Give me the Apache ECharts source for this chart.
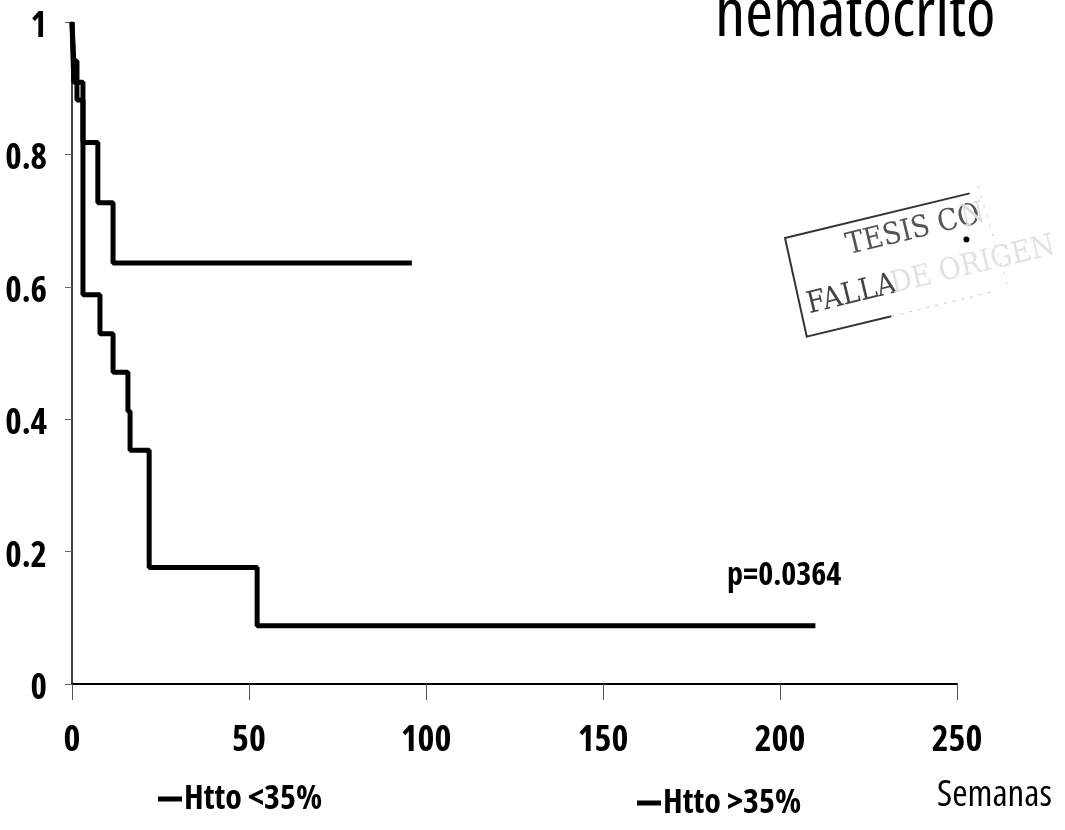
<!DOCTYPE html>
<html>
<head>
<meta charset="utf-8">
<script src="https://cdn.jsdelivr.net/npm/echarts@6/dist/echarts.min.js"></script>
<style>
html,body{margin:0;padding:0;background:#fff;}
#chart{width:1065px;height:830px;}
</style>
</head>
<body>
<div id="chart"></div>
<script>
// Kaplan-Meier steps (weeks, survival)
const weeksHigh = [0, 0.5, 3.1, 7.3, 11.6, 96];
const survHigh  = [1, 0.909, 0.818, 0.727, 0.636, 0.636];
const weeksLow  = [0, 0.5, 1.4, 3.1, 7.9, 11.6, 15.8, 16.4, 21.8, 52.3, 210];
const survLow   = [1, 0.941, 0.882, 0.588, 0.529, 0.471, 0.412, 0.353, 0.176, 0.088, 0.088];
const seriesNames = ['Htto <35%', 'Htto >35%'];
const xTicks = [0, 50, 100, 150, 200, 250];
const yTicks = [0, 0.2, 0.4, 0.6, 0.8, 1];
const xAxisName = 'Semanas';
const titleText = 'hematocrito';
const pText = 'p=0.0364';
const stampWords = ['TESIS CO', 'N', 'FALLA', 'DE ORIGEN'];

const NARROW = '"Open Sans", "Noto Sans", sans-serif';
const SERIF = '"DejaVu Serif", "Liberation Serif", serif';

function pairs(xs, ys) { return xs.map((x, i) => [x, ys[i]]); }

const chart = echarts.init(document.getElementById('chart'));
const lineStyle = { color: '#000', width: 5 };

chart.setOption({
  animation: false,
  backgroundColor: '#fff',
  grid: { left: 72, top: 22, right: 108, bottom: 146, containLabel: false, outerBoundsMode: 'none' },
  xAxis: {
    type: 'value', min: xTicks[0], max: xTicks[xTicks.length - 1], interval: 50,
    name: xAxisName, nameLocation: 'end', nameGap: -20,
    nameTextStyle: { fontFamily: NARROW, fontWeight: 'condensed', fontSize: 37, color: '#000', align: 'left', verticalAlign: 'top', padding: [93, 0, 0, 0] },
    axisLine: { show: true, lineStyle: { color: '#000', width: 2 } },
    axisTick: { show: true, length: 16, lineStyle: { color: '#555', width: 1 } },
    axisLabel: { margin: 39, fontFamily: NARROW, fontWeight: 'bold condensed', fontSize: 36, color: '#000' },
    splitLine: { show: false }
  },
  yAxis: {
    type: 'value', min: yTicks[0], max: yTicks[yTicks.length - 1], interval: 0.2,
    axisLine: { show: true, lineStyle: { color: '#000', width: 1.5 } },
    axisTick: { show: true, length: 7, lineStyle: { color: '#666', width: 1 } },
    axisLabel: { margin: 25, formatter: '{v|{value}}',
      rich: { v: { fontFamily: NARROW, fontWeight: 'bold condensed', fontSize: 35, color: '#000', padding: [10, 0, 0, 0] } } },
    splitLine: { show: false }
  },
  legend: [
    { data: [seriesNames[0]], left: 153, top: 777, icon: 'rect', itemWidth: 24, itemHeight: 5, itemGap: 0,
      textStyle: { fontFamily: NARROW, fontWeight: 'bold condensed', fontSize: 34, color: '#000', padding: [0, 0, 0, -3] } },
    { data: [seriesNames[1]], left: 632, top: 781, icon: 'rect', itemWidth: 24, itemHeight: 5, itemGap: 0,
      textStyle: { fontFamily: NARROW, fontWeight: 'bold condensed', fontSize: 34, color: '#000', padding: [0, 0, 0, -3] } }
  ],
  series: [
    { name: seriesNames[0], type: 'line', step: 'end', data: pairs(weeksLow, survLow),
      showSymbol: false, symbol: 'none', itemStyle: { color: '#000' }, lineStyle: lineStyle },
    { name: seriesNames[1], type: 'line', step: 'end', data: pairs(weeksHigh, survHigh),
      showSymbol: false, symbol: 'none', itemStyle: { color: '#000' }, lineStyle: lineStyle }
  ],
  graphic: [
    { type: 'text', left: 715, top: -17, style: { text: titleText, font: 'condensed 67px ' + NARROW, fill: '#000' } },
    { type: 'text', left: 727, top: 560, style: { text: pText, font: 'bold condensed 32px ' + NARROW, fill: '#000' } },
    { type: 'group', x: 785, y: 238, rotation: 0.237, children: [
        { type: 'polyline', shape: { points: [[190, 0], [0, 0], [-2, 101], [85, 101]] },
          style: { stroke: '#333', lineWidth: 2, fill: null } },
        { type: 'line', shape: { x1: 85, y1: 101, x2: 190, y2: 101 }, style: { stroke: '#ccc', lineWidth: 1, lineDash: [3, 6] } },
        { type: 'line', shape: { x1: 200, y1: -5, x2: 205, y2: 100 }, style: { stroke: '#ccc', lineWidth: 1, lineDash: [2, 8] } },
        { type: 'text', x: 58, y: 8, style: { text: stampWords[0], font: 'condensed 30px ' + SERIF, fill: '#555' } },
        { type: 'text', x: 176, y: 8, style: { text: stampWords[1], font: 'condensed 30px ' + SERIF, fill: '#ddd' } },
        { type: 'text', x: 6, y: 56, style: { text: stampWords[2], font: 'condensed 30px ' + SERIF, fill: '#444' } },
        { type: 'text', x: 92, y: 56, style: { text: stampWords[3], font: 'condensed 30px ' + SERIF, fill: '#e2e2e2' } },
        { type: 'circle', shape: { cx: 176, cy: 44, r: 3 }, style: { fill: '#000' } }
    ] }
  ]
});
</script>
</body>
</html>
